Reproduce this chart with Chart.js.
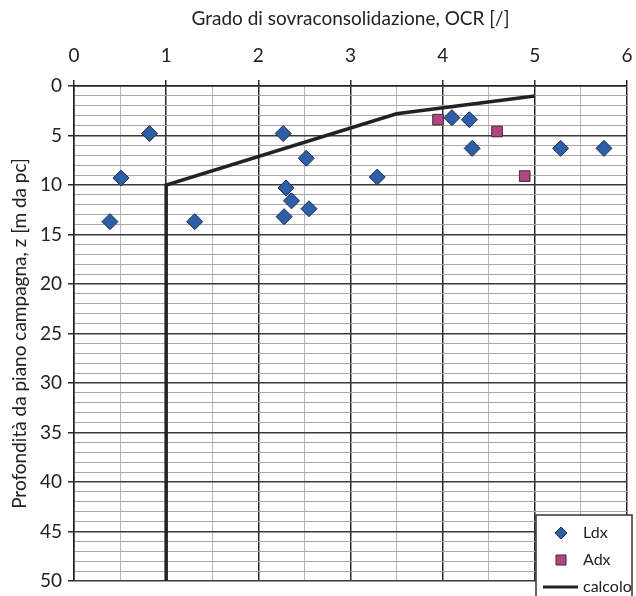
<!DOCTYPE html>
<html>
<head>
<meta charset="utf-8">
<script src="https://cdn.jsdelivr.net/npm/chart.js@4"></script>
<style>
  html, body { margin: 0; padding: 0; background: #fff; }
  #wrap { width: 636px; height: 596px; }
</style>
</head>
<body>
<div id="wrap"><canvas id="c"></canvas></div>
<script>
// Ldx points: OCR and depth
const ldxOCR = [0.82, 0.51, 0.39, 1.31, 2.27, 2.52, 2.30, 2.36, 2.55, 2.28, 3.29, 4.10, 4.29, 4.32, 5.28, 5.75];
const ldxZ   = [4.8, 9.3, 13.7, 13.7, 4.8, 7.3, 10.3, 11.6, 12.4, 13.2, 9.2, 3.2, 3.4, 6.3, 6.3, 6.3];
// Adx points
const adxOCR = [3.95, 4.59, 4.89];
const adxZ   = [3.4, 4.6, 9.1];
// calcolo line
const calcOCR = [1, 1, 3.5, 5];
const calcZ   = [50, 10, 2.8, 1];

const xTicks = [0, 1, 2, 3, 4, 5, 6];
const yTicks = [0, 5, 10, 15, 20, 25, 30, 35, 40, 45, 50];

const pts = (xs, ys) => xs.map((x, i) => ({ x: x, y: ys[i] }));

const FONT = 'Lato, "Open Sans", sans-serif';

const legendBox = {
  id: 'legendBox',
  afterDraw(chart) {
    const ctx = chart.ctx;
    const ds = chart.data.datasets;
    const bx = 536, by = 515, bw = 96, bh = 82;
    ctx.save();
    ctx.fillStyle = '#fff';
    ctx.fillRect(bx, by, bw, bh);
    ctx.strokeStyle = '#333';
    ctx.lineWidth = 1.5;
    ctx.strokeRect(bx, by, bw, bh);
    ctx.font = '16px ' + FONT;
    ctx.textBaseline = 'middle';
    const rows = [533, 560, 587];
    ds.forEach((d, i) => {
      const y = rows[i];
      if (d.showLine) {
        ctx.strokeStyle = d.borderColor;
        ctx.lineWidth = 3;
        ctx.beginPath();
        ctx.moveTo(543, y);
        ctx.lineTo(578, y);
        ctx.stroke();
      } else {
        ctx.fillStyle = d.backgroundColor;
        ctx.strokeStyle = d.borderColor;
        ctx.lineWidth = 1;
        ctx.beginPath();
        if (d.pointStyle === 'rectRot') {
          ctx.moveTo(561, y - 6); ctx.lineTo(567, y); ctx.lineTo(561, y + 6); ctx.lineTo(555, y);
        } else {
          ctx.rect(556, y - 5, 10, 10);
        }
        ctx.closePath();
        ctx.fill();
        ctx.stroke();
      }
      ctx.fillStyle = '#222';
      ctx.fillText(d.label, 583, y);
    });
    ctx.restore();
  }
};

new Chart(document.getElementById('c'), {
  type: 'scatter',
  data: {
    datasets: [
      {
        label: 'Ldx',
        data: pts(ldxOCR, ldxZ),
        pointStyle: 'rectRot',
        pointRadius: 8,
        pointHoverRadius: 8,
        backgroundColor: '#2f5ea8',
        borderColor: '#1b2b4d',
        borderWidth: 1
      },
      {
        label: 'Adx',
        data: pts(adxOCR, adxZ),
        pointStyle: 'rect',
        pointRadius: 7.5,
        pointHoverRadius: 7.5,
        backgroundColor: '#b2467f',
        borderColor: '#3a2a33',
        borderWidth: 1
      },
      {
        label: 'calcolo',
        data: pts(calcOCR, calcZ),
        showLine: true,
        pointRadius: 0,
        borderColor: '#222',
        backgroundColor: '#222',
        borderWidth: 3.5
      }
    ]
  },
  options: {
    responsive: true,
    maintainAspectRatio: false,
    animation: false,
    layout: { padding: { left: 0, right: 0, top: 0, bottom: 15 } },
    plugins: {
      legend: { display: false },
      tooltip: { enabled: false }
    },
    scales: {
      x: {
        type: 'linear',
        position: 'top',
        min: 0,
        max: 6,
        afterFit(s) { s.height = 86; s.paddingLeft = 0; s.paddingRight = 0; },
        afterBuildTicks(s) {
          const t = [];
          for (let v = 0; v <= 12; v++) t.push({ value: v / 2 });
          s.ticks = t;
        },
        ticks: {
          autoSkip: false,
          maxRotation: 0,
          padding: 13,
          color: '#222',
          font: { family: FONT, size: 19 },
          callback: v => xTicks.includes(v) ? v : ''
        },
        grid: {
          color: c => c.tick && Number.isInteger(c.tick.value) ? '#2a2a2a' : '#b8b8b8',
          lineWidth: c => c.tick && Number.isInteger(c.tick.value) ? 1.5 : 1,
          tickColor: c => c.tick && Number.isInteger(c.tick.value) ? '#2a2a2a' : 'rgba(0,0,0,0)',
          tickLength: 6
        },
        border: { display: true, color: '#222', width: 1.5 },
        title: {
          display: true,
          text: 'Grado di sovraconsolidazione, OCR [/]',
          color: '#222',
          font: { family: FONT, size: 19 },
          padding: { top: 7, bottom: 4 }
        }
      },
      y: {
        type: 'linear',
        reverse: true,
        min: 0,
        max: 50,
        afterFit(s) { s.width = 74; s.paddingTop = 0; s.paddingBottom = 0; },
        afterBuildTicks(s) {
          const t = [];
          for (let v = 0; v <= 50; v++) t.push({ value: v });
          s.ticks = t;
        },
        ticks: {
          autoSkip: false,
          padding: 6,
          color: '#222',
          font: { family: FONT, size: 19 },
          callback: v => yTicks.includes(v) ? v : ''
        },
        grid: {
          color: c => c.tick && c.tick.value % 5 === 0 ? '#3a3a3a' : '#a8a8a8',
          lineWidth: c => c.tick && c.tick.value % 5 === 0 ? 1.5 : 1,
          tickColor: c => c.tick && c.tick.value % 5 === 0 ? '#2a2a2a' : 'rgba(0,0,0,0)',
          tickLength: 6
        },
        border: { display: true, color: '#222', width: 1.5 },
        title: {
          display: true,
          text: 'Profondità da piano campagna, z [m da pc]',
          color: '#222',
          font: { family: FONT, size: 19 },
          padding: { top: 8, bottom: 4 }
        }
      }
    }
  },
  plugins: [legendBox]
});
</script>
</body>
</html>
